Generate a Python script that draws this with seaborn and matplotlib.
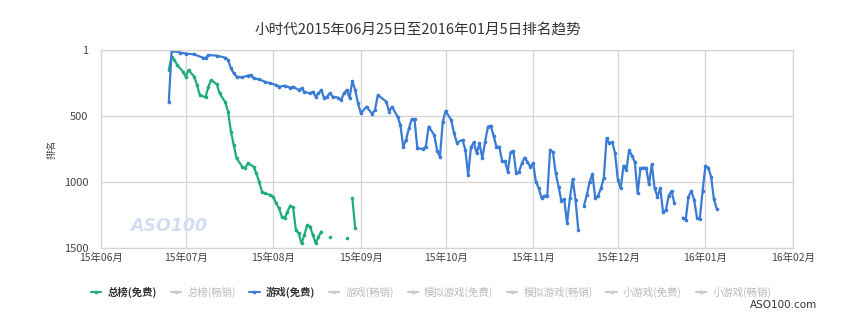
import numpy as np
import pandas as pd
import matplotlib
matplotlib.use("Agg")
import matplotlib.pyplot as plt
from matplotlib.lines import Line2D
import seaborn as sns

# ---------------- data ----------------
title = "小时代2015年06月25日至2016年01月5日排名趋势"
start_date = "2015-06-01"
month_ticks = ["2015-06-01", "2015-07-01", "2015-08-01", "2015-09-01", "2015-10-01",
               "2015-11-01", "2015-12-01", "2016-01-01", "2016-02-01"]
month_labels = ["15年06月", "15年07月", "15年08月", "15年09月", "15年10月",
                "15年11月", "15年12月", "16年01月", "16年02月"]
rank_ticks = [1, 500, 1000, 1500]
y_label = "排名"
legend_names = ["总榜(免费)", "总榜(畅销)", "游戏(免费)", "游戏(畅销)",
                "模拟游戏(免费)", "模拟游戏(畅销)", "小游戏(免费)", "小游戏(畅销)"]
legend_active = [True, False, True, False, False, False, False, False]

nan = np.nan
# day offsets from start_date; nan rank marks a gap in the data
green_day = [24, 25, 26, 27, 29, 30, 31, 33, 34, 35, 37, 38, 39, 41, 42, 44, 45, 46, 47, 48,
             50, 51, 52, 54, 55, 56, 57, 58, 60, 61, 62, 63, 64, 65, 66, 67, 68, 69, 70, 71,
             72, 73, 74, 75, 76, 77, 78, 79, 81, 82, 87, 88, 89, 90]
green_rank = [152, 52, 77, 115, 165, 203, 152, 203, 266, 342, 359, 279, 228, 261, 329, 397, 468, 620, 720, 821,
              884, 897, 859, 884, 935, 998, 1074, 1086, 1099, 1111, 1161, 1199, 1262, 1275, 1225, 1180, 1192, 1364, 1389, 1465,
              1401, 1326, 1338, 1401, 1465, 1414, 1376, nan, 1414, nan, 1427, nan, 1124, 1351]

blue_day = [24, 25, 28, 30, 33, 36, 37, 38, 41, 44, 45, 46, 47, 48, 50, 52, 53, 54, 56, 58,
            60, 62, 63, 65, 67, 68, 70, 71, 72, 74, 75, 76, 77, 78, 79, 80, 81, 82, 84, 85,
            86, 87, 88, 89, 90, 91, 92, 94, 96, 97, 98, 101, 102, 103, 105, 106, 107, 108, 109, 110,
            111, 112, 114, 115, 116, 118, 119, 120, 121, 122, 124, 125, 126, 128, 129, 130, 131, 132, 133, 134,
            135, 136, 137, 138, 139, 140, 141, 142, 143, 144, 145, 146, 147, 148, 149, 150, 151, 152, 153, 154,
            155, 156, 157, 158, 159, 160, 161, 162, 163, 164, 165, 166, 167, 168, 169, 170, 171, 172, 173, 174,
            175, 176, 177, 178, 179, 180, 181, 182, 183, 184, 185, 186, 187, 188, 189, 190, 191, 192, 193, 194,
            195, 196, 197, 198, 199, 200, 201, 202, 203, 204, 206, 207, 208, 209, 210, 211, 212, 213, 214, 215,
            216, 217, 218]
blue_rank = [395, 6, 20, 28, 34, 59, 64, 39, 44, 59, 77, 140, 177, 203, 208, 195, 190, 215, 223, 241,
             253, 266, 279, 271, 286, 279, 304, 291, 317, 329, 317, 354, 329, 304, 367, 354, 329, 354, 362, 380,
             330, 304, 362, 236, 304, 405, 480, 430, 485, 455, 342, 392, 468, 430, 506, 569, 733, 682, 594, 526,
             526, 745, 750, 733, 581, 645, 765, 808, 544, 463, 531, 632, 702, 682, 758, 947, 735, 700, 783, 708,
             821, 695, 581, 574, 650, 733, 733, 841, 841, 922, 775, 765, 935, 922, 859, 816, 851, 884, 859, 1002,
             1048, 1124, 1104, 1104, 758, 775, 935, 1036, 1144, 1129, 1313, 1124, 977, 1136, 1364, nan, 1180, 1099, 998, 942,
             1124, 1104, 1048, 972, 669, 708, 700, 783, 985, 1048, 877, 910, 758, 801, 851, 1086, 897, 892, 892, 1018,
             866, 1048, 1111, 1048, 1230, 1212, 1104, 1068, 1161, nan, 1270, 1288, 1111, 1068, 1136, 1270, 1280, 1068, 877, 892,
             960, 1129, 1205]

green_color = "#1fae78"
blue_color = "#3a7bd5"
grey_color = "#c8c8c8"
grid_color = "#d4d4d4"


def to_frame(days, ranks):
    df = pd.DataFrame({"day": days, "rank": ranks})
    df["seg"] = df["rank"].isna().cumsum()
    df = df.dropna().copy()
    df["date"] = pd.Timestamp(start_date) + pd.to_timedelta(df["day"], unit="D")
    return df


green_df = to_frame(green_day, green_rank)
blue_df = to_frame(blue_day, blue_rank)

# ---------------- style ----------------
sns.set_theme(style="white")
plt.rcParams["font.family"] = ["Noto Sans CJK SC", "DejaVu Sans"]

fig = plt.figure(figsize=(8.6, 3.13), dpi=100)
ax = fig.add_axes([101 / 860, 1 - 248 / 313, (793 - 101) / 860, (248 - 50) / 313])

for df, col in [(green_df, green_color), (blue_df, blue_color)]:
    sns.lineplot(data=df, x="date", y="rank", units="seg", estimator=None, sort=False,
                 color=col, linewidth=1.6, marker="o", markersize=2.6,
                 markeredgewidth=0, legend=False, ax=ax)

ax.set_xlim(pd.Timestamp(month_ticks[0]), pd.Timestamp(month_ticks[-1]))
ax.set_ylim(1500, 1)
ax.set_xticks(pd.to_datetime(month_ticks))
ax.set_xticklabels(month_labels)
ax.set_yticks(rank_ticks)
ax.set_yticklabels([str(t) for t in rank_ticks])
ax.set_xlabel("")
ax.set_ylabel(y_label, fontsize=7, color="#444444", labelpad=5)
ax.grid(True, color=grid_color, linewidth=0.9)
for s in ax.spines.values():
    s.set_visible(True)
    s.set_color(grid_color)
    s.set_linewidth(0.9)
ax.tick_params(axis="x", length=0, pad=3.5, labelsize=7.5, labelcolor="#444444")
ax.tick_params(axis="y", length=0, pad=9, labelsize=8, labelcolor="#444444")

fig.text(418 / 860, 1 - 30 / 313, title, ha="center", va="center", fontsize=10.5, color="#333333")

# watermark
fig.text(169 / 860, 1 - 226 / 313, "ASO100", ha="center", va="center", fontsize=12.5,
         style="italic", fontweight="bold", color="#d3ddf2", family="DejaVu Sans")

# site mark
fig.text(817 / 860, 1 - 305 / 313, "ASO100.com", ha="right", va="center", fontsize=7.5,
         color="#333333", family="DejaVu Sans")

# legend
handles = []
for name, active in zip(legend_names, legend_active):
    if name == legend_names[0]:
        col = green_color
    elif name == legend_names[2]:
        col = blue_color
    else:
        col = grey_color
    handles.append(Line2D([0], [0], color=col, linewidth=1.5, marker="o", markersize=2.6,
                          markeredgewidth=0))
leg = fig.legend(handles, legend_names, ncol=8, loc="center",
                 bbox_to_anchor=(431 / 860, 1 - 292 / 313), frameon=False,
                 fontsize=7.5, handlelength=1.0, handletextpad=0.6, columnspacing=1.3)
for txt, active in zip(leg.get_texts(), legend_active):
    if active:
        txt.set_color("#333333")
        txt.set_fontweight("bold")
    else:
        txt.set_color("#bbbbbb")

fig.savefig("out.png", dpi=100)
